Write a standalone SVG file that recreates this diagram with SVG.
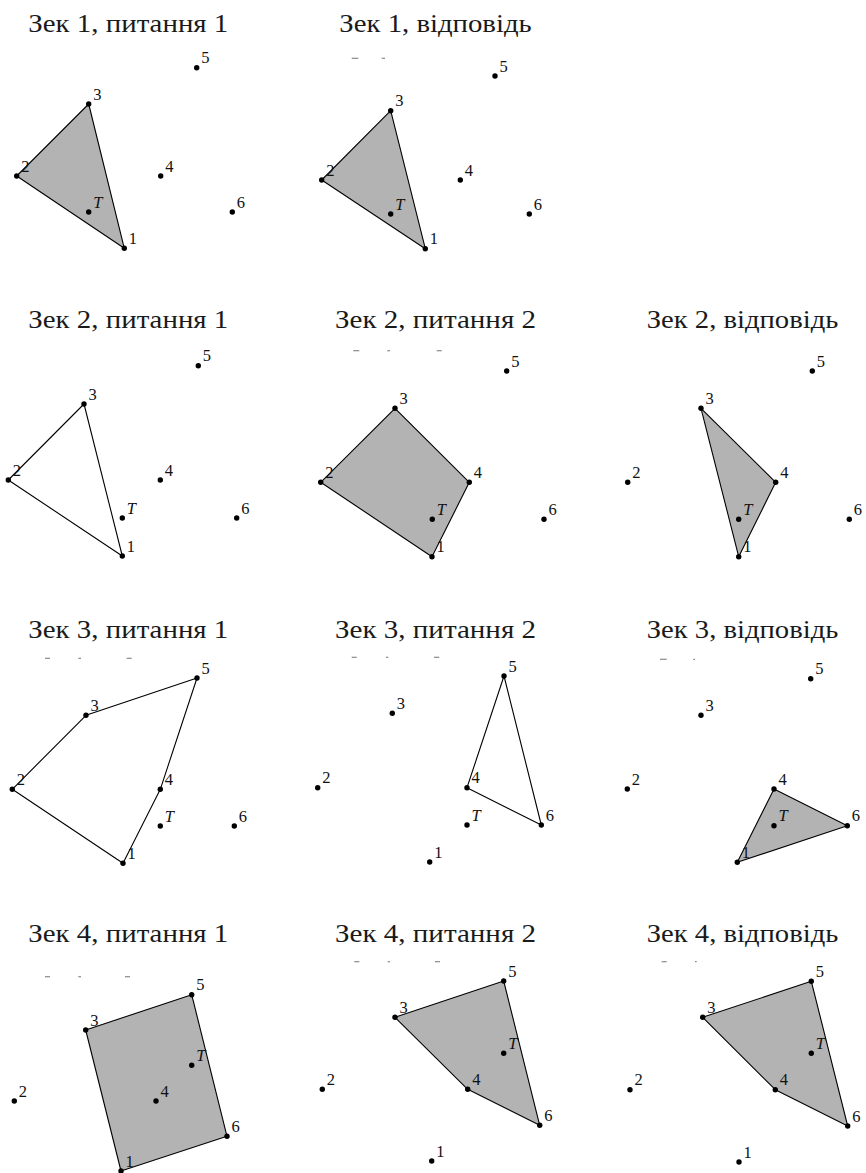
<svg xmlns="http://www.w3.org/2000/svg" width="866" height="1173" viewBox="0 0 866 1173">
<style>
.title{font-size:25px;fill:#1a1a1a}
.lbl{font-size:16.5px;fill:#111}
.it{font-style:italic}
.pt{fill:#000}
.fill{fill:#b3b3b3;stroke:#000;stroke-width:1.1;stroke-linejoin:round}
.open{fill:none;stroke:#000;stroke-width:1.1;stroke-linejoin:round}
.dash{stroke:#8a8a8a;stroke-width:1.2}
</style>
<rect width="866" height="1173" fill="#fff"/>
<g id="titles" font-family="Liberation Serif">
<text class="title" font-family="Liberation Serif" x="28.3" y="32.3" textLength="200" lengthAdjust="spacingAndGlyphs">Зек 1, питання 1</text>
<text class="title" font-family="Liberation Serif" x="339.3" y="32.3" textLength="192.4" lengthAdjust="spacingAndGlyphs">Зек 1, відповідь</text>
<text class="title" font-family="Liberation Serif" x="28.3" y="328.3" textLength="200" lengthAdjust="spacingAndGlyphs">Зек 2, питання 1</text>
<text class="title" font-family="Liberation Serif" x="335" y="328.3" textLength="201" lengthAdjust="spacingAndGlyphs">Зек 2, питання 2</text>
<text class="title" font-family="Liberation Serif" x="646.7" y="328.3" textLength="191.6" lengthAdjust="spacingAndGlyphs">Зек 2, відповідь</text>
<text class="title" font-family="Liberation Serif" x="28.3" y="638.3" textLength="200" lengthAdjust="spacingAndGlyphs">Зек 3, питання 1</text>
<text class="title" font-family="Liberation Serif" x="335" y="638.3" textLength="201" lengthAdjust="spacingAndGlyphs">Зек 3, питання 2</text>
<text class="title" font-family="Liberation Serif" x="646.7" y="638.3" textLength="191.6" lengthAdjust="spacingAndGlyphs">Зек 3, відповідь</text>
<text class="title" font-family="Liberation Serif" x="28.3" y="942.3" textLength="200" lengthAdjust="spacingAndGlyphs">Зек 4, питання 1</text>
<text class="title" font-family="Liberation Serif" x="335" y="942.3" textLength="201" lengthAdjust="spacingAndGlyphs">Зек 4, питання 2</text>
<text class="title" font-family="Liberation Serif" x="646.7" y="942.3" textLength="191.6" lengthAdjust="spacingAndGlyphs">Зек 4, відповідь</text>
</g>
<g id="marks">
<line class="dash" x1="351.7" y1="58.3" x2="358.3" y2="58.3"/>
<line class="dash" x1="381.7" y1="58.3" x2="385" y2="58.3"/>
<line class="dash" x1="353.3" y1="350.7" x2="359.3" y2="350.7"/>
<line class="dash" x1="387.3" y1="350.7" x2="390" y2="350.7"/>
<line class="dash" x1="436.7" y1="350.7" x2="441.7" y2="350.7"/>
<line class="dash" x1="45" y1="658.3" x2="50" y2="658.3"/>
<line class="dash" x1="78.3" y1="658.3" x2="81" y2="658.3"/>
<line class="dash" x1="126.7" y1="658.3" x2="131.7" y2="658.3"/>
<line class="dash" x1="351.7" y1="657.3" x2="356.7" y2="657.3"/>
<line class="dash" x1="386" y1="657.3" x2="388.3" y2="657.3"/>
<line class="dash" x1="434" y1="657.3" x2="439.3" y2="657.3"/>
<line class="dash" x1="660" y1="659.3" x2="666.7" y2="659.3"/>
<line class="dash" x1="693.3" y1="659.3" x2="695" y2="659.3"/>
<line class="dash" x1="45" y1="976.7" x2="50" y2="976.7"/>
<line class="dash" x1="78.3" y1="976.7" x2="81" y2="976.7"/>
<line class="dash" x1="125" y1="976.7" x2="130" y2="976.7"/>
<line class="dash" x1="354.3" y1="961.7" x2="359.3" y2="961.7"/>
<line class="dash" x1="387.7" y1="961.7" x2="390" y2="961.7"/>
<line class="dash" x1="435" y1="961.7" x2="440" y2="961.7"/>
<line class="dash" x1="661.7" y1="961.7" x2="666.7" y2="961.7"/>
<line class="dash" x1="695" y1="961.7" x2="696.7" y2="961.7"/>
</g>
<g id="connectors">
<polygon id="hull-11" class="fill" points="124.3,248.3 16.7,176 88.7,104"/>
<polygon id="hull-12" class="fill" points="425.3,248.7 321.7,180 390.7,110.7"/>
<polygon id="hull-21" class="open" points="122.3,556 8.3,480 84,404"/>
<polygon id="hull-22" class="fill" points="432,556.7 320.7,482.3 395,408.3 469.3,482.3"/>
<polygon id="hull-23" class="fill" points="738.7,556.7 701,408.3 775.7,482.3"/>
<polygon id="hull-31" class="open" points="123,863.3 12.3,789.3 86,715.3 197,678 160.3,789.3"/>
<polygon id="hull-32" class="open" points="467,787.7 504,676 541.3,825"/>
<polygon id="hull-33" class="fill" points="737.3,862.3 774,789 847.3,825.7"/>
<polygon id="hull-41" class="fill" points="121,1171 85.7,1030 191.7,994.7 227,1136.3"/>
<polygon id="hull-42" class="fill" points="395,1017.3 503.7,981 539.7,1125.3 467.7,1089.3"/>
<polygon id="hull-43" class="fill" points="702.7,1017.3 811.3,981.3 847.7,1126 775.3,1089.7"/>
</g>
<g id="points" font-family="Liberation Serif">
<g id="panel-11">
<g id="p11-1"><circle class="pt" cx="124.3" cy="248.3" r="2.7"/><text class="lbl" x="128.8" y="243.8">1</text></g>
<g id="p11-2"><circle class="pt" cx="16.7" cy="176" r="2.7"/><text class="lbl" x="21.2" y="171.5">2</text></g>
<g id="p11-3"><circle class="pt" cx="88.7" cy="104" r="2.7"/><text class="lbl" x="93.2" y="99.5">3</text></g>
<g id="p11-4"><circle class="pt" cx="160.7" cy="176" r="2.7"/><text class="lbl" x="165.2" y="171.5">4</text></g>
<g id="p11-5"><circle class="pt" cx="196.7" cy="67.7" r="2.7"/><text class="lbl" x="201.2" y="63.2">5</text></g>
<g id="p11-6"><circle class="pt" cx="232.3" cy="212" r="2.7"/><text class="lbl" x="236.8" y="207.5">6</text></g>
<g id="p11-T"><circle class="pt" cx="88.7" cy="212" r="2.7"/><text class="lbl it" x="93.2" y="207.5">T</text></g>
</g>
<g id="panel-12">
<g id="p12-1"><circle class="pt" cx="425.3" cy="248.7" r="2.7"/><text class="lbl" x="429.8" y="244.2">1</text></g>
<g id="p12-2"><circle class="pt" cx="321.7" cy="180" r="2.7"/><text class="lbl" x="326.2" y="175.5">2</text></g>
<g id="p12-3"><circle class="pt" cx="390.7" cy="110.7" r="2.7"/><text class="lbl" x="395.2" y="106.2">3</text></g>
<g id="p12-4"><circle class="pt" cx="460.3" cy="180" r="2.7"/><text class="lbl" x="464.8" y="175.5">4</text></g>
<g id="p12-5"><circle class="pt" cx="495" cy="76" r="2.7"/><text class="lbl" x="499.5" y="71.5">5</text></g>
<g id="p12-6"><circle class="pt" cx="529.3" cy="214" r="2.7"/><text class="lbl" x="533.8" y="209.5">6</text></g>
<g id="p12-T"><circle class="pt" cx="390.7" cy="214" r="2.7"/><text class="lbl it" x="395.2" y="209.5">T</text></g>
</g>
<g id="panel-21">
<g id="p21-1"><circle class="pt" cx="122.3" cy="556" r="2.7"/><text class="lbl" x="126.8" y="551.5">1</text></g>
<g id="p21-2"><circle class="pt" cx="8.3" cy="480" r="2.7"/><text class="lbl" x="12.8" y="475.5">2</text></g>
<g id="p21-3"><circle class="pt" cx="84" cy="404" r="2.7"/><text class="lbl" x="88.5" y="399.5">3</text></g>
<g id="p21-4"><circle class="pt" cx="160.3" cy="480" r="2.7"/><text class="lbl" x="164.8" y="475.5">4</text></g>
<g id="p21-5"><circle class="pt" cx="198.3" cy="365.7" r="2.7"/><text class="lbl" x="202.8" y="361.2">5</text></g>
<g id="p21-6"><circle class="pt" cx="236.7" cy="518" r="2.7"/><text class="lbl" x="241.2" y="513.5">6</text></g>
<g id="p21-T"><circle class="pt" cx="122.3" cy="518" r="2.7"/><text class="lbl it" x="126.8" y="513.5">T</text></g>
</g>
<g id="panel-22">
<g id="p22-1"><circle class="pt" cx="432" cy="556.7" r="2.7"/><text class="lbl" x="436.5" y="552.2">1</text></g>
<g id="p22-2"><circle class="pt" cx="320.7" cy="482.3" r="2.7"/><text class="lbl" x="325.2" y="477.8">2</text></g>
<g id="p22-3"><circle class="pt" cx="395" cy="408.3" r="2.7"/><text class="lbl" x="399.5" y="403.8">3</text></g>
<g id="p22-4"><circle class="pt" cx="469.3" cy="482.3" r="2.7"/><text class="lbl" x="473.8" y="477.8">4</text></g>
<g id="p22-5"><circle class="pt" cx="506.7" cy="371" r="2.7"/><text class="lbl" x="511.2" y="366.5">5</text></g>
<g id="p22-6"><circle class="pt" cx="544" cy="519.3" r="2.7"/><text class="lbl" x="548.5" y="514.8">6</text></g>
<g id="p22-T"><circle class="pt" cx="432.3" cy="519.3" r="2.7"/><text class="lbl it" x="436.8" y="514.8">T</text></g>
</g>
<g id="panel-23">
<g id="p23-1"><circle class="pt" cx="738.7" cy="556.7" r="2.7"/><text class="lbl" x="743.2" y="552.2">1</text></g>
<g id="p23-2"><circle class="pt" cx="627.7" cy="482.3" r="2.7"/><text class="lbl" x="632.2" y="477.8">2</text></g>
<g id="p23-3"><circle class="pt" cx="701" cy="408.3" r="2.7"/><text class="lbl" x="705.5" y="403.8">3</text></g>
<g id="p23-4"><circle class="pt" cx="775.7" cy="482.3" r="2.7"/><text class="lbl" x="780.2" y="477.8">4</text></g>
<g id="p23-5"><circle class="pt" cx="812.3" cy="371" r="2.7"/><text class="lbl" x="816.8" y="366.5">5</text></g>
<g id="p23-6"><circle class="pt" cx="849.3" cy="519.3" r="2.7"/><text class="lbl" x="853.8" y="514.8">6</text></g>
<g id="p23-T"><circle class="pt" cx="738.7" cy="519.3" r="2.7"/><text class="lbl it" x="743.2" y="514.8">T</text></g>
</g>
<g id="panel-31">
<g id="p31-1"><circle class="pt" cx="123" cy="863.3" r="2.7"/><text class="lbl" x="127.5" y="858.8">1</text></g>
<g id="p31-2"><circle class="pt" cx="12.3" cy="789.3" r="2.7"/><text class="lbl" x="16.8" y="784.8">2</text></g>
<g id="p31-3"><circle class="pt" cx="86" cy="715.3" r="2.7"/><text class="lbl" x="90.5" y="710.8">3</text></g>
<g id="p31-4"><circle class="pt" cx="160.3" cy="789.3" r="2.7"/><text class="lbl" x="164.8" y="784.8">4</text></g>
<g id="p31-5"><circle class="pt" cx="197" cy="678" r="2.7"/><text class="lbl" x="201.5" y="673.5">5</text></g>
<g id="p31-6"><circle class="pt" cx="234.3" cy="826" r="2.7"/><text class="lbl" x="238.8" y="821.5">6</text></g>
<g id="p31-T"><circle class="pt" cx="160.3" cy="826" r="2.7"/><text class="lbl it" x="164.8" y="821.5">T</text></g>
</g>
<g id="panel-32">
<g id="p32-1"><circle class="pt" cx="429.7" cy="862" r="2.7"/><text class="lbl" x="434.2" y="857.5">1</text></g>
<g id="p32-2"><circle class="pt" cx="317.7" cy="787.7" r="2.7"/><text class="lbl" x="322.2" y="783.2">2</text></g>
<g id="p32-3"><circle class="pt" cx="392.3" cy="713.3" r="2.7"/><text class="lbl" x="396.8" y="708.8">3</text></g>
<g id="p32-4"><circle class="pt" cx="467" cy="787.7" r="2.7"/><text class="lbl" x="471.5" y="783.2">4</text></g>
<g id="p32-5"><circle class="pt" cx="504" cy="676" r="2.7"/><text class="lbl" x="508.5" y="671.5">5</text></g>
<g id="p32-6"><circle class="pt" cx="541.3" cy="825" r="2.7"/><text class="lbl" x="545.8" y="820.5">6</text></g>
<g id="p32-T"><circle class="pt" cx="467" cy="825" r="2.7"/><text class="lbl it" x="471.5" y="820.5">T</text></g>
</g>
<g id="panel-33">
<g id="p33-1"><circle class="pt" cx="737.3" cy="862.3" r="2.7"/><text class="lbl" x="741.8" y="857.8">1</text></g>
<g id="p33-2"><circle class="pt" cx="627.3" cy="789" r="2.7"/><text class="lbl" x="631.8" y="784.5">2</text></g>
<g id="p33-3"><circle class="pt" cx="701" cy="715.3" r="2.7"/><text class="lbl" x="705.5" y="710.8">3</text></g>
<g id="p33-4"><circle class="pt" cx="774" cy="789" r="2.7"/><text class="lbl" x="778.5" y="784.5">4</text></g>
<g id="p33-5"><circle class="pt" cx="810.7" cy="678.7" r="2.7"/><text class="lbl" x="815.2" y="674.2">5</text></g>
<g id="p33-6"><circle class="pt" cx="847.3" cy="825.7" r="2.7"/><text class="lbl" x="851.8" y="821.2">6</text></g>
<g id="p33-T"><circle class="pt" cx="774" cy="825.7" r="2.7"/><text class="lbl it" x="778.5" y="821.2">T</text></g>
</g>
<g id="panel-41">
<g id="p41-1"><circle class="pt" cx="121" cy="1171" r="2.7"/><text class="lbl" x="125.5" y="1166.5">1</text></g>
<g id="p41-2"><circle class="pt" cx="14.3" cy="1101" r="2.7"/><text class="lbl" x="18.8" y="1096.5">2</text></g>
<g id="p41-3"><circle class="pt" cx="85.7" cy="1030" r="2.7"/><text class="lbl" x="90.2" y="1025.5">3</text></g>
<g id="p41-4"><circle class="pt" cx="156" cy="1101" r="2.7"/><text class="lbl" x="160.5" y="1096.5">4</text></g>
<g id="p41-5"><circle class="pt" cx="191.7" cy="994.7" r="2.7"/><text class="lbl" x="196.2" y="990.2">5</text></g>
<g id="p41-6"><circle class="pt" cx="227" cy="1136.3" r="2.7"/><text class="lbl" x="231.5" y="1131.8">6</text></g>
<g id="p41-T"><circle class="pt" cx="191.7" cy="1065.3" r="2.7"/><text class="lbl it" x="196.2" y="1060.8">T</text></g>
</g>
<g id="panel-42">
<g id="p42-1"><circle class="pt" cx="431.7" cy="1161" r="2.7"/><text class="lbl" x="436.2" y="1156.5">1</text></g>
<g id="p42-2"><circle class="pt" cx="322.3" cy="1089.3" r="2.7"/><text class="lbl" x="326.8" y="1084.8">2</text></g>
<g id="p42-3"><circle class="pt" cx="395" cy="1017.3" r="2.7"/><text class="lbl" x="399.5" y="1012.8">3</text></g>
<g id="p42-4"><circle class="pt" cx="467.7" cy="1089.3" r="2.7"/><text class="lbl" x="472.2" y="1084.8">4</text></g>
<g id="p42-5"><circle class="pt" cx="503.7" cy="981" r="2.7"/><text class="lbl" x="508.2" y="976.5">5</text></g>
<g id="p42-6"><circle class="pt" cx="539.7" cy="1125.3" r="2.7"/><text class="lbl" x="544.2" y="1120.8">6</text></g>
<g id="p42-T"><circle class="pt" cx="503.7" cy="1053.3" r="2.7"/><text class="lbl it" x="508.2" y="1048.8">T</text></g>
</g>
<g id="panel-43">
<g id="p43-1"><circle class="pt" cx="739" cy="1162" r="2.7"/><text class="lbl" x="743.5" y="1157.5">1</text></g>
<g id="p43-2"><circle class="pt" cx="630" cy="1089.7" r="2.7"/><text class="lbl" x="634.5" y="1085.2">2</text></g>
<g id="p43-3"><circle class="pt" cx="702.7" cy="1017.3" r="2.7"/><text class="lbl" x="707.2" y="1012.8">3</text></g>
<g id="p43-4"><circle class="pt" cx="775.3" cy="1089.7" r="2.7"/><text class="lbl" x="779.8" y="1085.2">4</text></g>
<g id="p43-5"><circle class="pt" cx="811.3" cy="981.3" r="2.7"/><text class="lbl" x="815.8" y="976.8">5</text></g>
<g id="p43-6"><circle class="pt" cx="847.7" cy="1126" r="2.7"/><text class="lbl" x="852.2" y="1121.5">6</text></g>
<g id="p43-T"><circle class="pt" cx="811.3" cy="1053.3" r="2.7"/><text class="lbl it" x="815.8" y="1048.8">T</text></g>
</g>
</g>
</svg>
